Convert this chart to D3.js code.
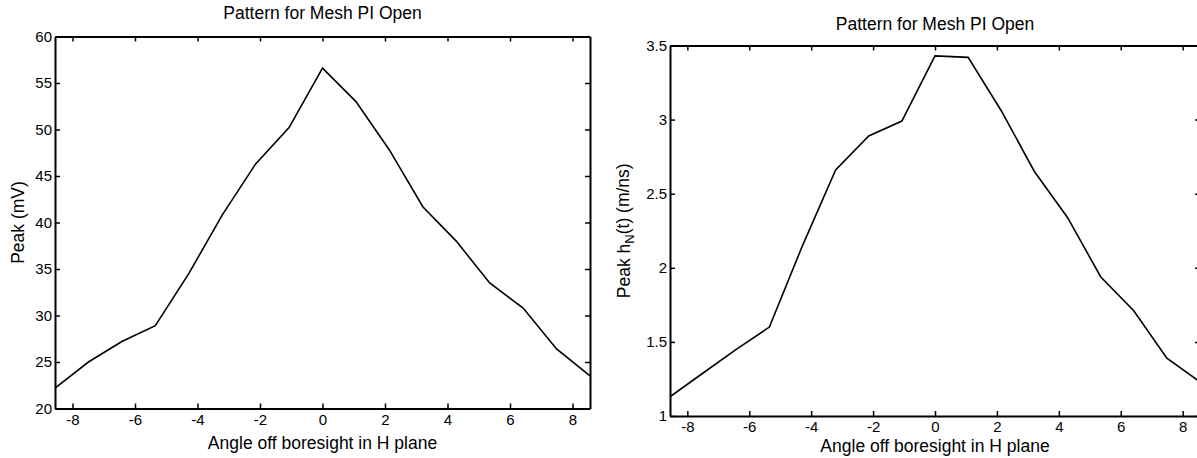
<!DOCTYPE html>
<html>
<head>
<meta charset="utf-8">
<script src="https://cdn.jsdelivr.net/npm/d3@7"></script>
<style>
  body { margin: 0; background: #fff; }
  svg { display: block; font-family: "Liberation Sans", Arial, sans-serif; }
  .domain { stroke: #000; stroke-width: 2px; }
  .tick line { stroke: #000; stroke-width: 1.5px; }
  .tick text { font-size: 15px; fill: #000; }
</style>
</head>
<body>
<div id="chart"></div>
<script>
// angle steps (deg) and the two measured series
const angles = [-8.56, -7.49, -6.42, -5.35, -4.28, -3.21, -2.14, -1.07, 0,
                1.07, 2.14, 3.21, 4.28, 5.35, 6.42, 7.49, 8.56];
const peakMv = [22.2, 25.0, 27.2, 28.9, 34.5, 40.8, 46.3, 50.2, 56.6,
                53.0, 47.8, 41.7, 38.0, 33.5, 30.8, 26.4, 23.5];
const peakHn = [1.13, 1.29, 1.45, 1.60, 2.15, 2.66, 2.89, 2.99, 3.43,
                3.42, 3.06, 2.65, 2.34, 1.94, 1.71, 1.39, 1.23];

const xTicks = [-8, -6, -4, -2, 0, 2, 4, 6, 8];
const yTicksMv = [20, 25, 30, 35, 40, 45, 50, 55, 60];
const yTicksHn = [1, 1.5, 2, 2.5, 3, 3.5];

const titleText = "Pattern for Mesh PI Open";
const xLabelText = "Angle off boresight in H plane";

const svgWidth = 1197;
const svgHeight = 458;

const svg = d3.select("#chart")
  .append("svg")
  .attr("width", svgWidth)
  .attr("height", svgHeight);

// plain hyphen minus like the original figure
const fmt = d => String(d);

function drawPanel(p) {
  const g = svg.append("g");
  const x = d3.scaleLinear().domain([-8.56, 8.56]).range([p.left, p.right]);
  const y = d3.scaleLinear().domain(p.yDomain).range([p.bottom, p.top]);
  const tick = 5;

  g.append("g")
    .attr("transform", `translate(0,${p.bottom})`)
    .call(d3.axisBottom(x).tickValues(xTicks).tickSizeInner(-tick).tickSizeOuter(0)
      .tickPadding(5).tickFormat(fmt))
    .call(a => a.selectAll("text").attr("dy", "0.75em"));
  g.append("g")
    .attr("transform", `translate(0,${p.top})`)
    .call(d3.axisTop(x).tickValues(xTicks).tickSizeInner(-tick).tickSizeOuter(0).tickFormat(""));
  g.append("g")
    .attr("transform", `translate(${p.left},0)`)
    .call(d3.axisLeft(y).tickValues(p.yTicks).tickSizeInner(-tick).tickSizeOuter(0)
      .tickPadding(3).tickFormat(fmt));
  g.append("g")
    .attr("transform", `translate(${p.right},0)`)
    .call(d3.axisRight(y).tickValues(p.yTicks).tickSizeInner(-tick).tickSizeOuter(0).tickFormat(""));

  const line = d3.line().x(d => x(d[0])).y(d => y(d[1]));
  g.append("path")
    .datum(angles.map((a, i) => [a, p.values[i]]))
    .attr("fill", "none")
    .attr("stroke", "#000")
    .attr("stroke-width", 1.6)
    .attr("d", line);

  const cx = (p.left + p.right) / 2;
  g.append("text")
    .attr("x", cx)
    .attr("y", p.top - p.titleGap)
    .attr("text-anchor", "middle")
    .attr("font-size", "17.5px")
    .text(titleText);

  g.append("text")
    .attr("x", cx)
    .attr("y", p.bottom + p.xLabelGap)
    .attr("text-anchor", "middle")
    .attr("font-size", "17.5px")
    .text(xLabelText);

  const yl = g.append("text")
    .attr("transform", `translate(${p.yLabelX},${(p.top + p.bottom) / 2}) rotate(-90)`)
    .attr("text-anchor", "middle")
    .attr("font-size", "17.5px");
  p.yLabel(yl);
}

drawPanel({
  left: 55, right: 590, top: 36.5, bottom: 408.5,
  yDomain: [20, 60], yTicks: yTicksMv, values: peakMv,
  yLabelX: 24, titleGap: 17.5, xLabelGap: 40,
  yLabel: t => t.text("Peak (mV)")
});

drawPanel({
  left: 670, right: 1200, top: 45.5, bottom: 416,
  yDomain: [1, 3.5], yTicks: yTicksHn, values: peakHn,
  yLabelX: 630, titleGap: 15.5, xLabelGap: 36,
  yLabel: t => {
    t.append("tspan").text("Peak h");
    t.append("tspan").attr("dy", "0.3em").attr("font-size", "13px").text("N");
    t.append("tspan").attr("dy", "-0.3em").text("(t) (m/ns)");
  }
});
</script>
</body>
</html>
